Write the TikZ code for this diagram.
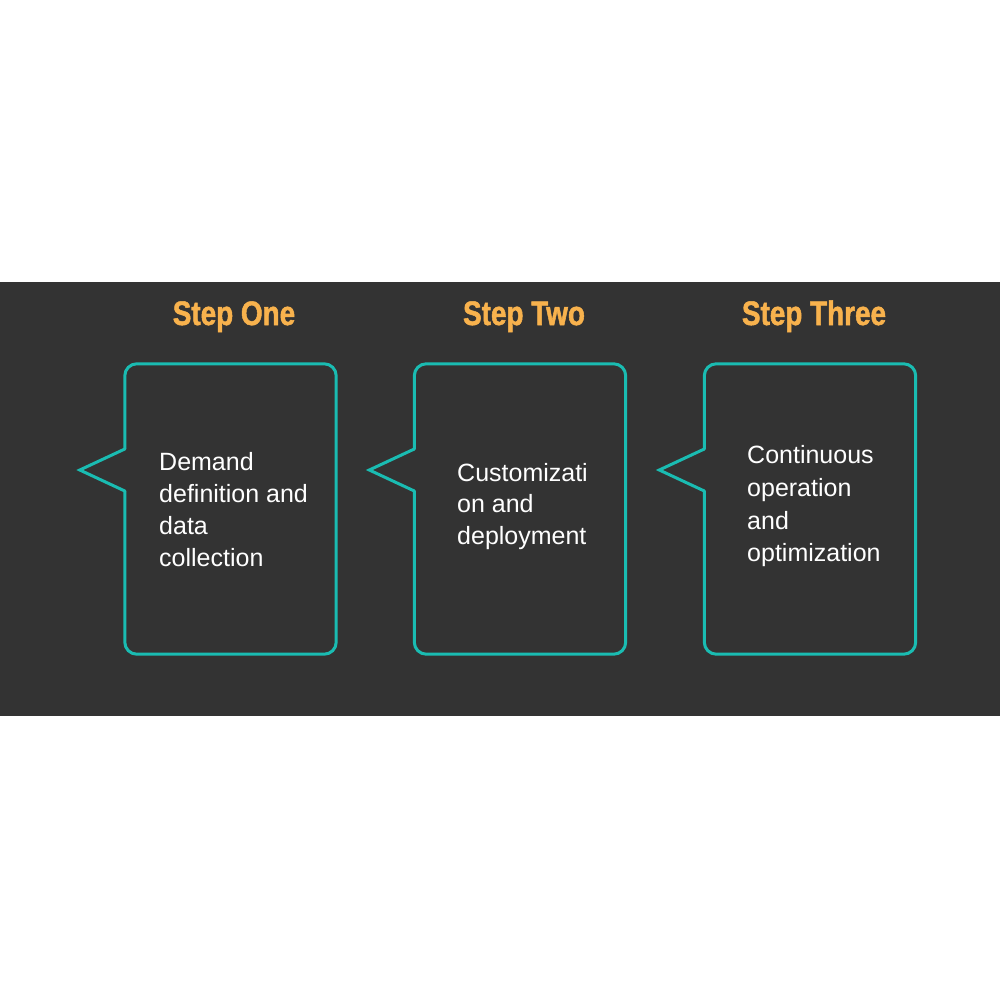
\documentclass[tikz,border=0pt]{standalone}
\usepackage{fontspec}
\setmainfont{Liberation Sans}
\newfontfamily\titlefont[FakeStretch=0.82,FakeBold=1.5]{Liberation Sans}
\usetikzlibrary{calc}
\definecolor{bandgray}{RGB}{51,51,51}
\definecolor{tealline}{RGB}{26,188,178}
\definecolor{steporange}{RGB}{248,178,77}
\tikzset{
  boxarea/.style={rectangle, draw=none, inner sep=0pt, minimum width=211pt, minimum height=290pt},
  outline/.style={draw=tealline, line width=3pt, line cap=round, rounded corners=12pt},
  notch/.style={draw=tealline, line width=3pt, line cap=round, line join=miter},
  steptitle/.style={text=steporange, inner sep=0pt, anchor=base, font=\titlefont\bfseries\fontsize{34}{34}\selectfont},
  bodyline/.style={text=white, inner sep=0pt, anchor=base west, font=\fontsize{25}{25}\selectfont}
}
\begin{document}
\begin{tikzpicture}[x=1pt,y=-1pt]
\useasboundingbox (0,0) rectangle (1000,1000);
\fill[white] (0,0) rectangle (1000,1000);
\fill[bandgray] (0,282) rectangle (1000,716);

\node[boxarea] (b1) at (230.5,509) {};
\node[boxarea] (b2) at (520,509) {};
\node[boxarea] (b3) at (810,509) {};

\foreach \b in {b1,b2,b3}{
  \draw[outline] ($(\b.west)+(0,-18)$) -- (\b.south west) -- (\b.south east) -- (\b.north east) -- (\b.north west) -- ($(\b.west)+(0,-60)$);
  \draw[notch] ($(\b.west)+(0,-60)$) -- ($(\b.west)+(-45,-39)$) -- ($(\b.west)+(0,-18)$);
}

\node[steptitle] (s1) at (234,325) {Step One};
\node[steptitle] (s2) at (524,325) {Step Two};
\node[steptitle] (s3) at (814,325) {Step Three};

\node[bodyline] (t1a) at (159,470) {Demand};
\node[bodyline] (t1b) at (159,502) {definition and};
\node[bodyline] (t1c) at (159,534) {data};
\node[bodyline] (t1d) at (159,566) {collection};

\node[bodyline] (t2a) at (457,481) {Customizati};
\node[bodyline] (t2b) at (457,512) {on and};
\node[bodyline] (t2c) at (457,544) {deployment};

\node[bodyline] (t3a) at (747,463) {Continuous};
\node[bodyline] (t3b) at (747,496) {operation};
\node[bodyline] (t3c) at (747,529) {and};
\node[bodyline] (t3d) at (747,561) {optimization};
\end{tikzpicture}
\end{document}
